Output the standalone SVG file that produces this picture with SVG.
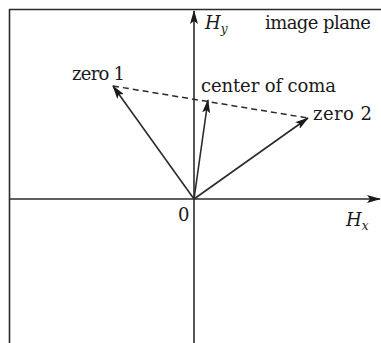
<svg xmlns="http://www.w3.org/2000/svg" width="381" height="343" viewBox="0 0 381 343">
<style>
.ln{stroke:#2b2b2b;stroke-width:1.6;fill:none}
.dash{stroke:#2b2b2b;stroke-width:1.5;fill:none;stroke-dasharray:6 4}
.t{font-family:"DejaVu Serif","Liberation Serif",serif;font-size:18px;fill:#1a1a1a}
.i{font-style:italic}
.s{font-size:12px;font-style:italic}
</style>
<defs>
<marker id="ah" viewBox="0 0 14 8" refX="13" refY="4" markerWidth="14" markerHeight="8" markerUnits="userSpaceOnUse" orient="auto">
<path d="M0,0 L14,4 L0,8 L3,4 z" fill="#1a1a1a"/>
</marker>
</defs>
<g id="frame">
<line class="ln" x1="9" y1="9.5" x2="381" y2="9.5"/>
<line class="ln" x1="9.5" y1="9" x2="9.5" y2="343"/>
</g>
<g id="connectors">
<line class="ln" x1="194" y1="343" x2="194" y2="11" marker-end="url(#ah)"/>
<line class="ln" x1="9" y1="199" x2="380" y2="199" marker-end="url(#ah)"/>
<line class="ln" x1="194" y1="199" x2="113" y2="86" marker-end="url(#ah)"/>
<line class="ln" x1="194" y1="199" x2="208" y2="100" marker-end="url(#ah)"/>
<line class="ln" x1="194" y1="199" x2="308" y2="118" marker-end="url(#ah)"/>
<line class="dash" x1="113" y1="86" x2="308" y2="118"/>
</g>
<g id="labels">
<text class="t" x="72" y="80" textLength="53">zero 1</text>
<text class="t" x="201" y="92" textLength="135">center of coma</text>
<text class="t" x="313" y="120" textLength="59">zero 2</text>
<text class="t" x="265" y="29" textLength="106">image plane</text>
<text class="t i" x="205" y="29">H<tspan class="s" dy="4">y</tspan></text>
<text class="t" x="178" y="221">0</text>
<text class="t i" x="346" y="226">H<tspan class="s" dy="4">x</tspan></text>
</g>
</svg>
